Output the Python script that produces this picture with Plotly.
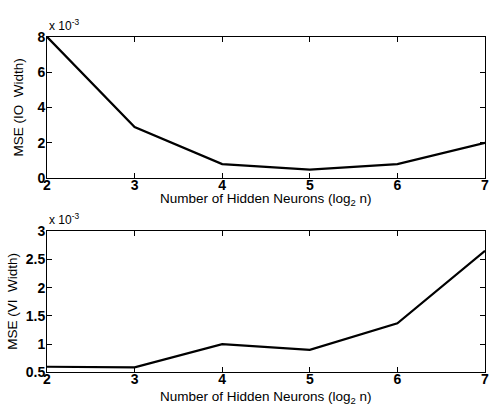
import plotly.graph_objects as go
from plotly.subplots import make_subplots

# Data (MSE values in units of 1e-3)
hidden_log2 = [2, 3, 4, 5, 6, 7]
mse_io_width = [8.0, 2.9, 0.8, 0.48, 0.8, 2.0]
mse_vi_width = [0.6, 0.59, 1.0, 0.9, 1.37, 2.65]

top_ticks = [0, 2, 4, 6, 8]
bottom_ticks = [0.5, 1, 1.5, 2, 2.5, 3]
bottom_tick_labels = ["0.5", "1", "1.5", "2", "2.5", "3"]
x_ticks = [2, 3, 4, 5, 6, 7]

W, H = 489, 416
FONT = "Liberation Sans, Arial, sans-serif"

fig = make_subplots(rows=2, cols=1)
fig.add_trace(go.Scatter(x=hidden_log2, y=mse_io_width, mode="lines",
                         line=dict(color="black", width=2.2)), row=1, col=1)
fig.add_trace(go.Scatter(x=hidden_log2, y=mse_vi_width, mode="lines",
                         line=dict(color="black", width=2.2)), row=2, col=1)

def py(p):
    return 1 - p / H

axis_common = dict(showline=True, linecolor="black", linewidth=1, mirror="allticks",
                   ticks="inside", ticklen=5, tickcolor="black", showgrid=False,
                   zeroline=False, ticklabeloverflow="allow",
                   tickfont=dict(family=FONT, size=14, color="black", weight="bold"))

fig.update_layout(
    width=W, height=H,
    margin=dict(l=47, r=1, t=0, b=0),
    plot_bgcolor="white", paper_bgcolor="white",
    showlegend=False,
    xaxis=dict(domain=[0, 1], range=[2, 7], tickvals=x_ticks, **axis_common),
    xaxis2=dict(domain=[0, 1], range=[2, 7], tickvals=x_ticks, **axis_common),
    yaxis=dict(domain=[py(177), py(30)], range=[0, 8], tickvals=top_ticks, **axis_common),
    yaxis2=dict(domain=[py(379), py(232)], range=[0.5, 3], tickvals=bottom_ticks,
                ticktext=bottom_tick_labels, **axis_common),
)
fig.update_xaxes(ticklabelstandoff=-6)
fig.update_yaxes(ticklabelstandoff=-2)

title_font = dict(family=FONT, size=13.5, color="black")
anns = [
    dict(text="Number of Hidden Neurons (log<sub>2</sub> n)", x=0.5, xref="paper",
         y=py(210), yref="paper", xanchor="center", yanchor="bottom", showarrow=False, font=title_font),
    dict(text="Number of Hidden Neurons (log<sub>2</sub> n)", x=0.5, xref="paper",
         y=py(416), yref="paper", xanchor="center", yanchor="bottom", showarrow=False, font=title_font),
    dict(text="MSE (IO  Width)", x=0, xref="paper", xshift=-28, xanchor="center",
         y=(py(177) + py(30)) / 2, yref="paper", yanchor="middle",
         textangle=-90, showarrow=False, font=title_font),
    dict(text="MSE (VI  Width)", x=0, xref="paper", xshift=-34, xanchor="center",
         y=(py(379) + py(232)) / 2, yref="paper", yanchor="middle",
         textangle=-90, showarrow=False, font=title_font),
    dict(text="x 10<sup>-3</sup>", x=0, xref="paper", y=py(28), yref="paper",
         xanchor="left", yanchor="bottom", showarrow=False,
         font=dict(family=FONT, size=12, color="black")),
    dict(text="x 10<sup>-3</sup>", x=0, xref="paper", y=py(230), yref="paper",
         xanchor="left", yanchor="bottom", showarrow=False,
         font=dict(family=FONT, size=12, color="black")),
]
fig.update_layout(annotations=anns)

fig.write_html("out.html", config={"displayModeBar": False},
               post_script="document.body.style.margin='0';")
